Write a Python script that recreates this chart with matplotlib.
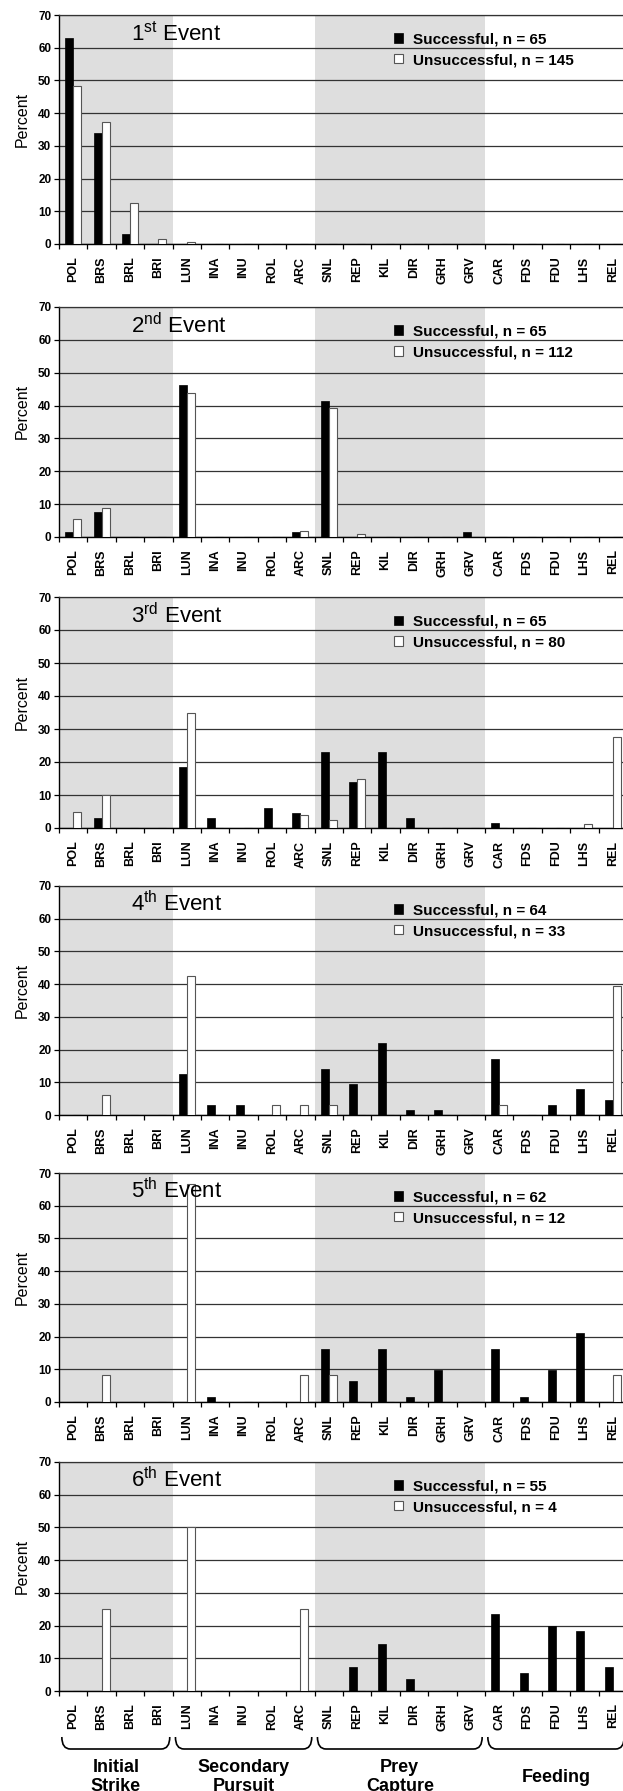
import numpy as np
import matplotlib
matplotlib.use('Agg')
import matplotlib.pyplot as plt
from matplotlib.path import Path
from matplotlib.patches import PathPatch
from matplotlib.transforms import blended_transform_factory

plt.rcParams['font.family'] = ['Liberation Sans', 'DejaVu Sans']
plt.rcParams['mathtext.fontset'] = 'custom'
plt.rcParams['mathtext.rm'] = 'Liberation Sans'
plt.rcParams['mathtext.it'] = 'Liberation Sans:italic'

# ─────────────────────────────────────────────
# Data  (percent of events per behaviour)
# ─────────────────────────────────────────────
behaviours = ['POL', 'BRS', 'BRL', 'BRI', 'LUN', 'INA', 'INU', 'ROL', 'ARC',
              'SNL', 'REP', 'KIL', 'DIR', 'GRH', 'GRV', 'CAR', 'FDS', 'FDU',
              'LHS', 'REL']
group_names = ['Initial\nStrike', 'Secondary\nPursuit', 'Prey\nCapture', 'Feeding']
group_first = [0, 4, 9, 15]
group_last  = [3, 8, 14, 19]
shaded_groups = [0, 2]

event_titles = [r'1$^{\rm st}$ Event', r'2$^{\rm nd}$ Event', r'3$^{\rm rd}$ Event',
                r'4$^{\rm th}$ Event', r'5$^{\rm th}$ Event', r'6$^{\rm th}$ Event']
n_success = [65, 65, 65, 64, 62, 55]
n_fail    = [145, 112, 80, 33, 12, 4]

#           POL   BRS   BRL   BRI   LUN   INA  INU  ROL  ARC   SNL   REP   KIL   DIR  GRH  GRV  CAR   FDS  FDU   LHS   REL
succ_e1 = [63.0, 33.8,  3.0,  0.0,  0.0, 0.0, 0.0, 0.0, 0.0,  0.0,  0.0,  0.0, 0.0, 0.0, 0.0,  0.0, 0.0,  0.0,  0.0,  0.0]
fail_e1 = [48.3, 37.2, 12.4,  1.4,  0.7, 0.0, 0.0, 0.0, 0.0,  0.0,  0.0,  0.0, 0.0, 0.0, 0.0,  0.0, 0.0,  0.0,  0.0,  0.0]
succ_e2 = [ 1.5,  7.7,  0.0,  0.0, 46.2, 0.0, 0.0, 0.0, 1.5, 41.5,  0.0,  0.0, 0.0, 0.0, 1.5,  0.0, 0.0,  0.0,  0.0,  0.0]
fail_e2 = [ 5.4,  8.9,  0.0,  0.0, 43.8, 0.0, 0.0, 0.0, 1.8, 39.3,  0.9,  0.0, 0.0, 0.0, 0.0,  0.0, 0.0,  0.0,  0.0,  0.0]
succ_e3 = [ 0.0,  3.1,  0.0,  0.0, 18.5, 3.1, 0.0, 6.2, 4.6, 23.1, 13.8, 23.1, 3.1, 0.0, 0.0,  1.5, 0.0,  0.0,  0.0,  0.0]
fail_e3 = [ 5.0, 10.0,  0.0,  0.0, 35.0, 0.0, 0.0, 0.0, 3.8,  2.5, 15.0,  0.0, 0.0, 0.0, 0.0,  0.0, 0.0,  0.0,  1.3, 27.5]
succ_e4 = [ 0.0,  0.0,  0.0,  0.0, 12.5, 3.1, 3.1, 0.0, 0.0, 14.1,  9.4, 21.9, 1.6, 1.6, 0.0, 17.2, 0.0,  3.1,  7.8,  4.7]
fail_e4 = [ 0.0,  6.1,  0.0,  0.0, 42.4, 0.0, 0.0, 3.0, 3.0,  3.0,  0.0,  0.0, 0.0, 0.0, 0.0,  3.0, 0.0,  0.0,  0.0, 39.4]
succ_e5 = [ 0.0,  0.0,  0.0,  0.0,  0.0, 1.6, 0.0, 0.0, 0.0, 16.1,  6.5, 16.1, 1.6, 9.7, 0.0, 16.1, 1.6,  9.7, 21.0,  0.0]
fail_e5 = [ 0.0,  8.3,  0.0,  0.0, 66.7, 0.0, 0.0, 0.0, 8.3,  8.3,  0.0,  0.0, 0.0, 0.0, 0.0,  0.0, 0.0,  0.0,  0.0,  8.3]
succ_e6 = [ 0.0,  0.0,  0.0,  0.0,  0.0, 0.0, 0.0, 0.0, 0.0,  0.0,  7.3, 14.5, 3.6, 0.0, 0.0, 23.6, 5.5, 20.0, 18.2,  7.3]
fail_e6 = [ 0.0, 25.0,  0.0,  0.0, 50.0, 0.0, 0.0, 0.0, 25.0, 0.0,  0.0,  0.0, 0.0, 0.0, 0.0,  0.0, 0.0,  0.0,  0.0,  0.0]

succ_all = [succ_e1, succ_e2, succ_e3, succ_e4, succ_e5, succ_e6]
fail_all = [fail_e1, fail_e2, fail_e3, fail_e4, fail_e5, fail_e6]

# ─────────────────────────────────────────────
# Layout (pixels of a 623 x 1791 canvas)
# ─────────────────────────────────────────────
W, H = 623, 1791
AX_LEFT, AX_RIGHT = 59, 627
PANEL_Y = [(15, 244), (307, 537), (597, 828), (886, 1115), (1173, 1402), (1462, 1691)]
BAR_W = 0.28
SHADE = '#dedede'

fig = plt.figure(figsize=(W / 100, H / 100), dpi=100)
fig.patch.set_facecolor('white')

x = np.arange(len(behaviours))
axes = []
for i, (top, bot) in enumerate(PANEL_Y):
    ax = fig.add_axes([AX_LEFT / W, 1 - bot / H, (AX_RIGHT - AX_LEFT) / W, (bot - top) / H])
    axes.append(ax)

    for g in shaded_groups:
        ax.axvspan(group_first[g] - 0.5, group_last[g] + 0.5, color=SHADE, lw=0, zorder=0.1)

    b_s = ax.bar(x - BAR_W / 2, succ_all[i], BAR_W, color='black', edgecolor='black',
                 lw=0.5, zorder=3)
    b_u = ax.bar(x + BAR_W / 2, fail_all[i], BAR_W, color='white', edgecolor='#555555',
                 lw=0.8, zorder=3)

    ax.set_xlim(-0.5, len(behaviours) - 0.5)
    ax.set_ylim(0, 70)
    ax.set_yticks(range(0, 71, 10))
    ax.set_yticklabels([str(v) for v in range(0, 71, 10)], fontsize=8.5, fontweight='bold')
    ax.set_xticks(x)
    ax.set_xticklabels(behaviours, rotation=90, fontsize=9, fontweight='bold')
    ax.set_xticks(np.arange(-0.5, len(behaviours)), minor=True)
    ax.tick_params(axis='x', which='major', length=0, pad=9)
    ax.tick_params(axis='x', which='minor', length=3.5, width=0.9, direction='out')
    ax.tick_params(axis='y', length=3.5, width=0.9, pad=2)

    ax.set_axisbelow(True)
    ax.yaxis.grid(True, color='#333333', lw=0.9, zorder=0.5)
    for side in ('left', 'bottom'):
        ax.spines[side].set_linewidth(1.0)
    ax.spines['top'].set_color('#333333')
    ax.spines['top'].set_linewidth(0.9)
    ax.spines['right'].set_visible(False)

    ax.set_ylabel('Percent', fontsize=11.5)
    ax.yaxis.set_label_coords(-0.051, 0.544)

    ax.text(0.127, 0.888, event_titles[i], transform=ax.transAxes, fontsize=16,
            va='baseline', ha='left')

    ax.legend([b_s, b_u], [f'Successful, n = {n_success[i]}',
                           f'Unsuccessful, n = {n_fail[i]}'],
              loc='upper left', bbox_to_anchor=(0.590, 0.924), frameon=False,
              prop={'weight': 'bold', 'size': 11}, handlelength=0.55,
              handleheight=0.55, handletextpad=0.7, labelspacing=0.45,
              borderaxespad=0, borderpad=0)

# ─────────────────────────────────────────────
# Group braces under the last panel
# ─────────────────────────────────────────────
ax = axes[-1]
tr = blended_transform_factory(ax.transData, fig.transFigure)
y_top = 1 - 1737 / H
y_bot = 1 - 1749 / H
rx = 0.3
for name, g0, g1 in zip(group_names, group_first, group_last):
    x0, x1 = g0 - 0.4, g1 + 0.4
    verts = [(x0, y_top), (x0, y_bot), (x0 + rx, y_bot), (x1 - rx, y_bot),
             (x1, y_bot), (x1, y_top)]
    codes = [Path.MOVETO, Path.CURVE3, Path.CURVE3, Path.LINETO, Path.CURVE3, Path.CURVE3]
    fig.add_artist(PathPatch(Path(verts, codes), transform=tr, fill=False,
                             lw=1.2, color='black', clip_on=False))
    fig.text((g0 + g1) / 2, 1 - 1777 / H, name, transform=tr, ha='center',
             va='center', fontsize=13, fontweight='bold', linespacing=1.1)

fig.savefig('out.png', dpi=100, facecolor='white')
